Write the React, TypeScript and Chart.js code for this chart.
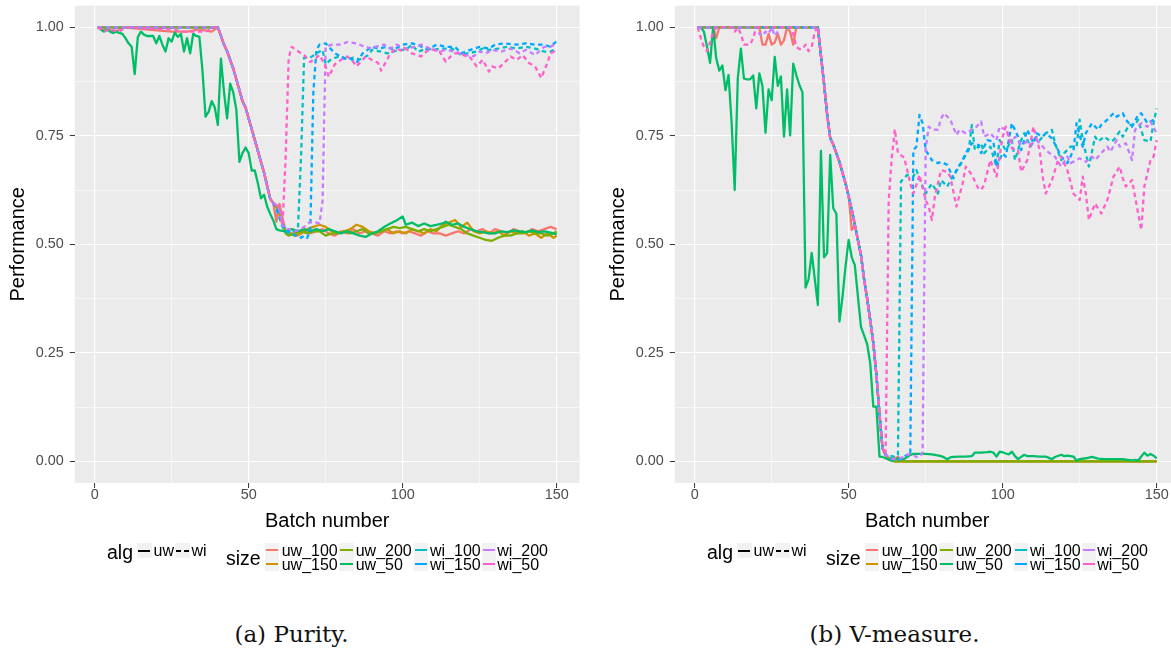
import React, { useEffect, useRef } from "react";
import { Chart, registerables } from "chart.js";

Chart.register(...registerables);

type Pt = [number, number];

// ---------------- categories / ticks ----------------
const SERIES_NAMES = ["uw_100", "uw_150", "uw_200", "uw_50", "wi_100", "wi_150", "wi_200", "wi_50"];
const SERIES_COLORS = ["#F8766D", "#CD9600", "#7CAE00", "#00BE67", "#00BFC4", "#00A9FF", "#C77CFF", "#FF61CC"];
const SERIES_DASHED = [false, false, false, false, true, true, true, true];
const X_TICKS = [0, 25, 50, 75, 100, 125, 150];
const X_LABELED = [0, 50, 100, 150];
const Y_TICKS = [0, 0.125, 0.25, 0.375, 0.5, 0.625, 0.75, 0.875, 1];
const Y_LABELED = [0, 0.25, 0.5, 0.75, 1];
const X_TITLE = "Batch number";
const Y_TITLE = "Performance";
const CAPTIONS = ["(a) Purity.", "(b) V-measure."];

// ---------------- Purity values (batch, value) ----------------
const PUR_PLATEAU: Pt[] = [[1, 1], [40, 1]];
const PUR_DROP: Pt[] = [[41, 0.98], [42, 0.96], [43, 0.945], [44, 0.925], [45, 0.905], [46, 0.88], [47, 0.855], [48, 0.83], [49, 0.815], [50, 0.79], [51, 0.765], [52, 0.74], [53, 0.715], [54, 0.69], [55, 0.665], [56, 0.635], [57, 0.605], [58, 0.595]];

const PUR_UW_100: Pt[] = [[1, 1], [4, 0.995], [7, 0.99], [9, 1], [25, 0.99], [30, 0.99], [34, 0.995], [38, 0.99], [40, 1], ...PUR_DROP,
  [59, 0.552], [60, 0.593], [61, 0.56], [62, 0.53], [64, 0.525], [66, 0.52], [68, 0.53], [70, 0.525], [72, 0.53], [74, 0.535], [76, 0.525], [78, 0.52], [80, 0.53], [82, 0.525], [84, 0.535], [86, 0.525], [88, 0.53], [90, 0.525], [92, 0.52], [94, 0.53], [96, 0.525], [98, 0.53], [100, 0.525], [102, 0.53], [104, 0.525], [106, 0.52], [108, 0.53], [110, 0.525], [112, 0.525], [114, 0.52], [116, 0.525], [118, 0.53], [120, 0.525], [122, 0.535], [124, 0.53], [126, 0.535], [128, 0.525], [130, 0.535], [132, 0.53], [134, 0.525], [136, 0.535], [138, 0.53], [140, 0.525], [142, 0.535], [144, 0.53], [146, 0.535], [148, 0.54], [150, 0.535]];

const PUR_UW_150: Pt[] = [...PUR_PLATEAU, ...PUR_DROP,
  [59, 0.585], [60, 0.57], [61, 0.545], [62, 0.528], [63, 0.525], [65, 0.52], [67, 0.525], [69, 0.535], [71, 0.54], [73, 0.545], [75, 0.54], [77, 0.53], [79, 0.525], [81, 0.53], [83, 0.535], [85, 0.545], [87, 0.54], [89, 0.53], [91, 0.525], [93, 0.53], [95, 0.535], [97, 0.525], [99, 0.53], [101, 0.525], [103, 0.535], [105, 0.53], [107, 0.525], [109, 0.535], [111, 0.53], [113, 0.545], [115, 0.55], [117, 0.556], [119, 0.54], [121, 0.55], [123, 0.53], [125, 0.525], [127, 0.53], [129, 0.525], [131, 0.53], [133, 0.52], [135, 0.53], [137, 0.525], [139, 0.53], [141, 0.52], [143, 0.525], [145, 0.515], [147, 0.525], [149, 0.515], [150, 0.52]];

const PUR_UW_200: Pt[] = [...PUR_PLATEAU, ...PUR_DROP,
  [59, 0.59], [60, 0.575], [61, 0.55], [62, 0.525], [63, 0.52], [65, 0.525], [67, 0.53], [69, 0.525], [71, 0.53], [73, 0.53], [75, 0.52], [77, 0.525], [79, 0.525], [81, 0.53], [83, 0.525], [85, 0.53], [87, 0.535], [89, 0.525], [91, 0.525], [93, 0.53], [95, 0.535], [97, 0.54], [99, 0.537], [101, 0.54], [103, 0.535], [105, 0.53], [107, 0.535], [109, 0.53], [111, 0.535], [113, 0.54], [115, 0.545], [117, 0.54], [119, 0.535], [121, 0.525], [123, 0.52], [125, 0.515], [127, 0.51], [129, 0.508], [131, 0.515], [133, 0.52], [135, 0.52], [137, 0.525], [139, 0.525], [141, 0.53], [143, 0.525], [145, 0.525], [147, 0.52], [149, 0.525], [150, 0.53]];

const PUR_UW_50: Pt[] = [[1, 1], [2, 0.995], [3, 0.99], [4, 0.995], [5, 0.99], [6, 0.987], [7, 0.99], [8, 0.987], [9, 0.985], [10, 0.975], [11, 0.963], [12, 0.955], [13, 0.892], [14, 0.977], [15, 0.99], [16, 0.983], [17, 0.98], [18, 0.98], [19, 0.98], [20, 0.963], [21, 0.98], [22, 0.96], [23, 0.944], [24, 0.975], [25, 0.967], [26, 0.988], [27, 0.978], [28, 0.985], [29, 0.944], [30, 0.975], [31, 0.94], [32, 0.985], [33, 0.98], [34, 0.978], [35, 0.9], [36, 0.794], [37, 0.805], [38, 0.83], [39, 0.815], [40, 0.775], [41, 0.928], [42, 0.85], [43, 0.79], [44, 0.87], [45, 0.85], [46, 0.81], [47, 0.69], [48, 0.71], [49, 0.723], [50, 0.71], [51, 0.67], [52, 0.67], [53, 0.64], [54, 0.606], [55, 0.614], [56, 0.587], [57, 0.57], [58, 0.555], [59, 0.535],
  [60, 0.532], [62, 0.53], [64, 0.535], [66, 0.53], [68, 0.535], [70, 0.53], [72, 0.535], [74, 0.53], [76, 0.535], [78, 0.53], [80, 0.525], [82, 0.53], [84, 0.525], [86, 0.52], [88, 0.517], [90, 0.525], [92, 0.53], [94, 0.54], [96, 0.548], [98, 0.555], [100, 0.564], [101, 0.545], [103, 0.55], [105, 0.542], [107, 0.548], [109, 0.542], [111, 0.545], [113, 0.548], [114, 0.552], [116, 0.545], [118, 0.548], [120, 0.54], [122, 0.535], [124, 0.53], [126, 0.528], [128, 0.525], [130, 0.525], [132, 0.53], [134, 0.528], [136, 0.532], [138, 0.53], [140, 0.528], [142, 0.532], [144, 0.528], [146, 0.53], [148, 0.527], [150, 0.523]];

const PUR_WI_100: Pt[] = [...PUR_PLATEAU, ...PUR_DROP,
  [59, 0.58], [60, 0.56], [61, 0.54], [62, 0.53], [63, 0.525], [64, 0.53], [65, 0.53], [66, 0.535], [67, 0.7], [68, 0.93], [70, 0.93], [72, 0.94], [74, 0.948], [75, 0.915], [77, 0.928], [80, 0.933], [82, 0.926], [84, 0.93], [86, 0.926], [89, 0.936], [90, 0.948], [93, 0.944], [95, 0.94], [97, 0.944], [99, 0.948], [101, 0.948], [103, 0.96], [105, 0.944], [108, 0.951], [110, 0.948], [112, 0.951], [114, 0.951], [116, 0.951], [119, 0.936], [121, 0.94], [124, 0.944], [126, 0.951], [128, 0.948], [131, 0.951], [134, 0.955], [137, 0.951], [140, 0.955], [143, 0.951], [146, 0.944], [148, 0.944], [150, 0.951]];

const PUR_WI_150: Pt[] = [...PUR_PLATEAU, ...PUR_DROP,
  [59, 0.585], [60, 0.57], [61, 0.55], [62, 0.53], [63, 0.53], [64, 0.525], [65, 0.52], [66, 0.52], [67, 0.515], [68, 0.52], [69, 0.515], [70, 0.53], [71, 0.85], [72, 0.948], [73, 0.96], [75, 0.963], [76, 0.955], [78, 0.94], [81, 0.928], [83, 0.928], [85, 0.918], [87, 0.94], [90, 0.955], [92, 0.951], [95, 0.955], [97, 0.948], [100, 0.96], [103, 0.963], [105, 0.96], [108, 0.948], [111, 0.96], [114, 0.955], [117, 0.955], [119, 0.94], [122, 0.948], [125, 0.955], [128, 0.951], [130, 0.96], [133, 0.963], [137, 0.96], [140, 0.963], [143, 0.96], [146, 0.96], [148, 0.955], [150, 0.968]];

const PUR_WI_200: Pt[] = [...PUR_PLATEAU, ...PUR_DROP,
  [59, 0.59], [60, 0.58], [61, 0.545], [62, 0.535], [63, 0.535], [65, 0.53], [67, 0.535], [68, 0.54], [70, 0.552], [72, 0.55], [73, 0.548], [74, 0.6], [75, 0.955], [77, 0.96], [80, 0.96], [82, 0.966], [85, 0.963], [87, 0.957], [90, 0.951], [91, 0.955], [94, 0.96], [96, 0.951], [98, 0.96], [101, 0.951], [104, 0.955], [106, 0.96], [109, 0.951], [112, 0.944], [114, 0.948], [117, 0.944], [120, 0.936], [123, 0.933], [125, 0.944], [127, 0.94], [129, 0.948], [132, 0.944], [135, 0.951], [138, 0.94], [140, 0.948], [143, 0.936], [146, 0.955], [148, 0.955], [150, 0.963]];

const PUR_WI_50: Pt[] = [[1, 1], [3, 0.99], [5, 0.995], [8, 0.99], [10, 1], [26, 0.995], [28, 0.99], [32, 0.99], [36, 0.99], [39, 1], [40, 1], ...PUR_DROP,
  [59, 0.59], [60, 0.585], [61, 0.545], [62, 0.7], [63, 0.93], [64, 0.955], [65, 0.95], [67, 0.94], [68, 0.936], [70, 0.92], [72, 0.93], [73, 0.936], [75, 0.91], [76, 0.886], [78, 0.915], [80, 0.925], [82, 0.933], [84, 0.92], [85, 0.91], [87, 0.925], [88, 0.933], [90, 0.925], [92, 0.918], [93, 0.9], [95, 0.926], [96, 0.94], [98, 0.951], [100, 0.945], [101, 0.951], [103, 0.94], [106, 0.933], [107, 0.94], [109, 0.951], [111, 0.945], [112, 0.944], [114, 0.921], [116, 0.936], [117, 0.94], [119, 0.94], [120, 0.935], [122, 0.93], [124, 0.91], [126, 0.925], [128, 0.898], [129, 0.91], [131, 0.905], [133, 0.918], [135, 0.933], [137, 0.925], [139, 0.936], [141, 0.918], [143, 0.91], [145, 0.883], [147, 0.918], [148, 0.94], [150, 0.948]];

// ---------------- V-measure values (batch, value) ----------------
const VM_PLATEAU: Pt[] = [[1, 1], [40, 1]];
const VM_DROP_A: Pt[] = [[41, 0.935], [42, 0.87], [43, 0.8], [44, 0.745], [45, 0.73], [46, 0.71], [47, 0.69], [48, 0.665], [49, 0.64], [50, 0.61]];
const VM_DROP_B: Pt[] = [[51, 0.58], [52, 0.545], [53, 0.51], [54, 0.475], [55, 0.42], [56, 0.375], [57, 0.325], [58, 0.272], [59, 0.2], [60, 0.11], [61, 0.03], [62, 0.015]];

const VM_UW_100: Pt[] = [[1, 1], [6, 1], [7, 0.975], [8, 1], [21, 1], [22, 0.96], [23, 0.96], [24, 0.985], [25, 0.96], [26, 0.965], [27, 0.985], [28, 0.96], [29, 0.97], [30, 1], [31, 0.99], [32, 0.96], [33, 1], [40, 1], ...VM_DROP_A,
  [51, 0.533], [52, 0.545], [53, 0.51], [54, 0.475], [55, 0.42], [56, 0.375], [57, 0.325], [58, 0.272], [59, 0.2], [60, 0.11], [61, 0.03], [62, 0.015], [63, 0.008], [64, 0.005], [66, 0.01], [67, 0.005], [68, 0], [150, 0]];
const VM_UW_150: Pt[] = [...VM_PLATEAU, ...VM_DROP_A, ...VM_DROP_B, [63, 0.005], [64, 0.002], [65, 0], [150, 0]];
const VM_UW_200: Pt[] = [...VM_PLATEAU, ...VM_DROP_A, ...VM_DROP_B, [63, 0.004], [65, 0], [150, 0]];

const VM_UW_50: Pt[] = [[1, 1], [2, 1], [3, 0.99], [4, 0.955], [5, 0.918], [6, 1], [7, 0.929], [8, 0.9], [9, 0.912], [10, 0.855], [11, 0.89], [12, 0.78], [13, 0.625], [14, 0.882], [15, 0.951], [16, 0.882], [17, 0.88], [18, 0.88], [19, 0.889], [20, 0.813], [21, 0.894], [22, 0.865], [23, 0.757], [24, 0.857], [25, 0.832], [26, 0.932], [27, 0.865], [28, 0.887], [29, 0.748], [30, 0.857], [31, 0.751], [32, 0.916], [33, 0.89], [34, 0.867], [35, 0.85], [36, 0.4], [37, 0.42], [38, 0.48], [39, 0.42], [40, 0.36], [41, 0.715], [42, 0.47], [43, 0.48], [44, 0.706], [45, 0.583], [46, 0.571], [47, 0.322], [48, 0.379], [49, 0.45], [50, 0.51], [51, 0.47], [52, 0.452], [53, 0.38], [54, 0.31], [55, 0.29], [56, 0.27], [57, 0.226], [58, 0.126], [59, 0.126], [60, 0.011],
  [61, 0.01], [62, 0.007], [63, 0.004], [64, 0.0015], [65, 0.004], [66, 0.007], [67, 0.006], [68, 0.005], [69, 0.01], [70, 0.015], [71, 0.017], [73, 0.017], [75, 0.017], [77, 0.016], [78, 0.015], [80, 0.012], [81, 0.009], [82, 0.005], [83, 0.009], [84, 0.01], [86, 0.011], [88, 0.011], [90, 0.012], [91, 0.02], [93, 0.02], [95, 0.021], [96, 0.022], [97, 0.02], [98, 0.011], [99, 0.022], [100, 0.021], [101, 0.018], [102, 0.016], [103, 0.022], [104, 0.012], [105, 0.005], [107, 0.015], [108, 0.012], [110, 0.012], [112, 0.011], [114, 0.011], [115, 0.008], [116, 0.005], [117, 0.01], [119, 0.015], [120, 0.012], [121, 0.013], [123, 0.011], [124, 0.0015], [125, 0.005], [127, 0.007], [129, 0.01], [131, 0.006], [133, 0.005], [135, 0.005], [137, 0.005], [139, 0.005], [140, 0.004], [142, 0.002], [143, 0.003], [144, 0.002], [146, 0.02], [147, 0.013], [148, 0.017], [149, 0.013], [150, 0.007]];

const VM_WI_100: Pt[] = [...VM_PLATEAU, ...VM_DROP_A, ...VM_DROP_B,
  [63, 0.01], [64, 0.012], [65, 0.01], [66, 0.015], [67, 0.645], [69, 0.66], [71, 0.656], [72, 0.671], [74, 0.633], [75, 0.617], [77, 0.64], [79, 0.617], [80, 0.648], [82, 0.633], [84, 0.66], [86, 0.679], [87, 0.694], [89, 0.717], [90, 0.775], [91, 0.717], [93, 0.733], [94, 0.71], [96, 0.725], [98, 0.679], [99, 0.74], [101, 0.717], [103, 0.74], [104, 0.694], [106, 0.74], [107, 0.756], [109, 0.725], [111, 0.748], [112, 0.74], [114, 0.756], [116, 0.764], [117, 0.733], [119, 0.694], [120, 0.71], [122, 0.725], [124, 0.725], [125, 0.787], [126, 0.74], [128, 0.679], [130, 0.748], [131, 0.737], [133, 0.748], [135, 0.737], [136, 0.74], [138, 0.76], [139, 0.748], [141, 0.775], [143, 0.775], [144, 0.787], [146, 0.74], [148, 0.737], [149, 0.78], [150, 0.813]];

const VM_WI_150: Pt[] = [...VM_PLATEAU, ...VM_DROP_A, ...VM_DROP_B,
  [63, 0.01], [64, 0.005], [65, 0.005], [66, 0.003], [67, 0.005], [68, 0.01], [69, 0.015], [70, 0.015], [71, 0.717], [72, 0.725], [73, 0.798], [74, 0.779], [75, 0.717], [77, 0.694], [79, 0.687], [80, 0.69], [82, 0.683], [84, 0.652], [85, 0.671], [87, 0.694], [88, 0.71], [90, 0.733], [92, 0.729], [93, 0.71], [95, 0.74], [97, 0.737], [98, 0.679], [100, 0.71], [101, 0.702], [103, 0.779], [105, 0.748], [106, 0.717], [108, 0.764], [110, 0.733], [111, 0.756], [113, 0.748], [114, 0.756], [116, 0.744], [118, 0.717], [119, 0.702], [121, 0.687], [123, 0.717], [124, 0.779], [126, 0.725], [127, 0.756], [129, 0.779], [131, 0.764], [132, 0.775], [134, 0.787], [136, 0.802], [137, 0.794], [139, 0.802], [140, 0.787], [142, 0.771], [144, 0.798], [145, 0.802], [147, 0.779], [149, 0.787], [150, 0.79]];

const VM_WI_200: Pt[] = [[1, 1], [20, 1], [21, 0.985], [22, 0.98], [23, 0.99], [24, 0.985], [25, 1], [26, 0.98], [27, 0.99], [28, 1], [40, 1], ...VM_DROP_A, ...VM_DROP_B,
  [63, 0.01], [64, 0.005], [66, 0.005], [68, 0.01], [69, 0.015], [70, 0.017], [71, 0.015], [72, 0.01], [73, 0.01], [74, 0.02], [75, 0.72], [76, 0.771], [77, 0.764], [79, 0.764], [80, 0.79], [81, 0.802], [83, 0.787], [85, 0.752], [86, 0.764], [88, 0.756], [90, 0.764], [91, 0.767], [93, 0.783], [94, 0.748], [96, 0.756], [98, 0.74], [99, 0.771], [101, 0.764], [103, 0.733], [104, 0.748], [106, 0.729], [108, 0.737], [109, 0.729], [111, 0.74], [112, 0.733], [114, 0.717], [116, 0.706], [117, 0.702], [119, 0.679], [121, 0.702], [122, 0.687], [124, 0.694], [125, 0.698], [127, 0.69], [129, 0.702], [130, 0.694], [132, 0.71], [134, 0.725], [135, 0.713], [137, 0.74], [138, 0.725], [140, 0.733], [142, 0.694], [143, 0.764], [145, 0.779], [147, 0.771], [148, 0.783], [150, 0.756]];

const VM_WI_50: Pt[] = [[1, 1], [2, 0.975], [3, 0.955], [4, 0.945], [5, 0.965], [6, 0.99], [7, 1], [12, 1], [13, 0.99], [14, 1], [15, 0.985], [16, 0.96], [17, 0.96], [18, 0.96], [19, 0.975], [20, 1], [31, 1], [32, 0.985], [33, 0.955], [34, 0.95], [35, 0.95], [36, 0.96], [37, 0.945], [38, 0.955], [39, 0.99], [40, 1], ...VM_DROP_A, ...VM_DROP_B,
  [63, 0.6], [64, 0.7], [65, 0.765], [66, 0.71], [68, 0.7], [69, 0.671], [70, 0.64], [71, 0.617], [72, 0.637], [73, 0.66], [75, 0.602], [76, 0.587], [77, 0.556], [78, 0.61], [80, 0.671], [82, 0.667], [83, 0.656], [85, 0.587], [87, 0.64], [88, 0.679], [90, 0.66], [92, 0.63], [93, 0.625], [94, 0.637], [96, 0.694], [98, 0.656], [100, 0.748], [101, 0.771], [103, 0.721], [105, 0.717], [106, 0.667], [108, 0.694], [110, 0.771], [112, 0.717], [113, 0.656], [114, 0.617], [116, 0.648], [118, 0.694], [119, 0.702], [121, 0.671], [123, 0.617], [125, 0.602], [126, 0.656], [127, 0.617], [128, 0.556], [130, 0.594], [132, 0.571], [134, 0.602], [136, 0.656], [138, 0.679], [139, 0.652], [140, 0.633], [142, 0.648], [144, 0.571], [145, 0.533], [146, 0.633], [148, 0.694], [149, 0.702], [150, 0.74]];

const PURITY_SERIES: Pt[][] = [PUR_UW_100, PUR_UW_150, PUR_UW_200, PUR_UW_50, PUR_WI_100, PUR_WI_150, PUR_WI_200, PUR_WI_50];
const VMEASURE_SERIES: Pt[][] = [VM_UW_100, VM_UW_150, VM_UW_200, VM_UW_50, VM_WI_100, VM_WI_150, VM_WI_200, VM_WI_50];

// ---------------- styling ----------------
const SANS = '"Liberation Sans", Arial, Helvetica, sans-serif';
const SERIF = '"DejaVu Serif", "Liberation Serif", serif';
const CANVAS_W = 590;
const CANVAS_H = 545;

const panelBg = {
  id: "panelBg",
  beforeDraw(chart: any) {
    const { ctx, chartArea } = chart;
    if (!chartArea) return;
    ctx.save();
    ctx.fillStyle = "#EBEBEB";
    ctx.fillRect(chartArea.left, chartArea.top, chartArea.right - chartArea.left, chartArea.bottom - chartArea.top);
    ctx.restore();
  },
};

function Panel({ series, left }: { series: Pt[][]; left: number }) {
  const ref = useRef<HTMLCanvasElement | null>(null);
  useEffect(() => {
    if (!ref.current) return;
    const datasets = series.map((pts, i) => ({
      label: SERIES_NAMES[i],
      data: pts.map(([x, y]) => ({ x, y })),
      borderColor: SERIES_COLORS[i],
      backgroundColor: SERIES_COLORS[i],
      borderWidth: 2.3,
      borderDash: SERIES_DASHED[i] ? [4.5, 3.5] : [],
      borderJoinStyle: "round" as const,
      borderCapStyle: "butt" as const,
      pointRadius: 0,
      tension: 0,
      fill: false,
      order: SERIES_NAMES.length - i,
    }));
    const isMajorX = (v: number) => X_LABELED.includes(v);
    const isMajorY = (v: number) => Y_LABELED.some((t) => Math.abs(t - v) < 1e-9);
    const chart = new Chart(ref.current, {
      type: "line",
      data: { datasets },
      plugins: [panelBg],
      options: {
        animation: false,
        responsive: false,
        devicePixelRatio: 1,
        layout: { padding: { left: 0, top: 5.6, right: 10.4, bottom: 0 } },
        plugins: { legend: { display: false }, tooltip: { enabled: false } },
        scales: {
          x: {
            type: "linear",
            min: -6.45,
            max: 157.45,
            afterBuildTicks: (s: any) => {
              s.ticks = X_TICKS.map((v) => ({ value: v }));
            },
            afterFit: (s: any) => {
              s.height = 62;
              s.paddingLeft = 0;
              s.paddingRight = 0;
            },
            ticks: {
              autoSkip: false,
              maxRotation: 0,
              padding: -2,
              color: "#4D4D4D",
              font: { family: SANS, size: 14.4 },
              callback: (v: any) => (isMajorX(Number(v)) ? String(v) : ""),
            },
            grid: {
              color: "#FFFFFF",
              lineWidth: (c: any) => (c.tick && isMajorX(c.tick.value) ? 1.1 : 0.55),
              tickColor: (c: any) => (c.tick && isMajorX(c.tick.value) ? "#333333" : "rgba(0,0,0,0)"),
              tickLength: 5,
              tickWidth: 1,
            },
            border: { display: false },
            title: {
              display: true,
              text: X_TITLE,
              color: "#000000",
              font: { family: SANS, size: 20 },
              padding: { top: 0, bottom: 12 },
            },
          },
          y: {
            type: "linear",
            min: -0.05,
            max: 1.05,
            afterBuildTicks: (s: any) => {
              s.ticks = Y_TICKS.map((v) => ({ value: v }));
            },
            afterFit: (s: any) => {
              s.width = 74.8;
              s.paddingTop = 0;
              s.paddingBottom = 0;
            },
            ticks: {
              autoSkip: false,
              padding: 6,
              color: "#4D4D4D",
              font: { family: SANS, size: 14.4 },
              callback: (v: any) => (isMajorY(Number(v)) ? Number(v).toFixed(2) : ""),
            },
            grid: {
              color: "#FFFFFF",
              lineWidth: (c: any) => (c.tick && isMajorY(c.tick.value) ? 1.1 : 0.55),
              tickColor: (c: any) => (c.tick && isMajorY(c.tick.value) ? "#333333" : "rgba(0,0,0,0)"),
              tickLength: 5,
              tickWidth: 1,
            },
            border: { display: false },
            title: {
              display: true,
              text: Y_TITLE,
              color: "#000000",
              font: { family: SANS, size: 20 },
              padding: { top: 6, bottom: 0 },
            },
          },
        },
      } as any,
    });
    return () => chart.destroy();
  }, [series]);
  return (
    <canvas
      ref={ref}
      width={CANVAS_W}
      height={CANVAS_H}
      style={{ position: "absolute", left, top: 0, width: CANVAS_W, height: CANVAS_H, display: "block" }}
    />
  );
}

const KEY_COLS_X = [265, 339.3, 414, 481.7];
const LABEL_COLS_X = [281.7, 355.7, 430, 497.3];
const ROW_CENTER_Y = [550.3, 564.3];

function Text({ x, y, size, children }: { x: number; y: number; size: number; children: React.ReactNode }) {
  const h = Math.round(size * 1.25);
  return (
    <div
      style={{
        position: "absolute",
        left: x,
        top: y - h / 2,
        height: h,
        lineHeight: `${h}px`,
        fontFamily: SANS,
        fontSize: size,
        color: "#000",
        whiteSpace: "nowrap",
      }}
    >
      {children}
    </div>
  );
}

function Legend({ dx }: { dx: number }) {
  const items: React.ReactNode[] = [];
  items.push(<Text key="alg" x={dx + 107} y={551.7} size={19.5}>alg</Text>);
  items.push(<div key="k1" style={{ position: "absolute", left: dx + 137, top: 543, width: 15, height: 15, background: "#F2F2F2" }} />);
  items.push(<div key="k1l" style={{ position: "absolute", left: dx + 138.3, top: 549.5, width: 12, height: 2.2, background: "#000" }} />);
  items.push(<Text key="uw" x={dx + 153.5} y={550.5} size={16}>uw</Text>);
  items.push(<div key="k2" style={{ position: "absolute", left: dx + 174.5, top: 543, width: 15, height: 15, background: "#F2F2F2" }} />);
  items.push(<div key="k2a" style={{ position: "absolute", left: dx + 176, top: 549.5, width: 4.5, height: 2.2, background: "#000" }} />);
  items.push(<div key="k2b" style={{ position: "absolute", left: dx + 184.3, top: 549.5, width: 4.5, height: 2.2, background: "#000" }} />);
  items.push(<Text key="wi" x={dx + 191.5} y={550.5} size={16}>wi</Text>);
  items.push(<Text key="size" x={dx + 226} y={558.3} size={19.5}>size</Text>);
  SERIES_NAMES.forEach((name, i) => {
    const col = Math.floor(i / 2);
    const row = i % 2;
    const cy = ROW_CENTER_Y[row];
    items.push(
      <div key={`kb${i}`} style={{ position: "absolute", left: dx + KEY_COLS_X[col], top: cy - 7, width: 14.3, height: 14, background: "#F2F2F2" }} />
    );
    items.push(
      <div key={`kl${i}`} style={{ position: "absolute", left: dx + KEY_COLS_X[col] + 1, top: cy - 1, width: 12.3, height: 2, background: SERIES_COLORS[i] }} />
    );
    items.push(<Text key={`t${i}`} x={dx + LABEL_COLS_X[col]} y={cy + 0.5} size={16}>{name}</Text>);
  });
  return <>{items}</>;
}

export default function App() {
  return (
    <div
      style={{
        position: "fixed",
        left: 0,
        top: 0,
        width: 1171,
        height: 656,
        overflow: "hidden",
        background: "#FFFFFF",
      }}
    >
      <Panel series={PURITY_SERIES} left={0} />
      <Panel series={VMEASURE_SERIES} left={600} />
      <Legend dx={0} />
      <Legend dx={600} />
      {CAPTIONS.map((c, i) => (
        <div
          key={c}
          style={{
            position: "absolute",
            left: (i === 0 ? 291.5 : 894.5) - 150,
            width: 300,
            top: 634 - 15,
            height: 30,
            lineHeight: "30px",
            textAlign: "center",
            fontFamily: SERIF,
            fontSize: 23,
            color: "#111",
          }}
        >
          {c}
        </div>
      ))}
    </div>
  );
}
